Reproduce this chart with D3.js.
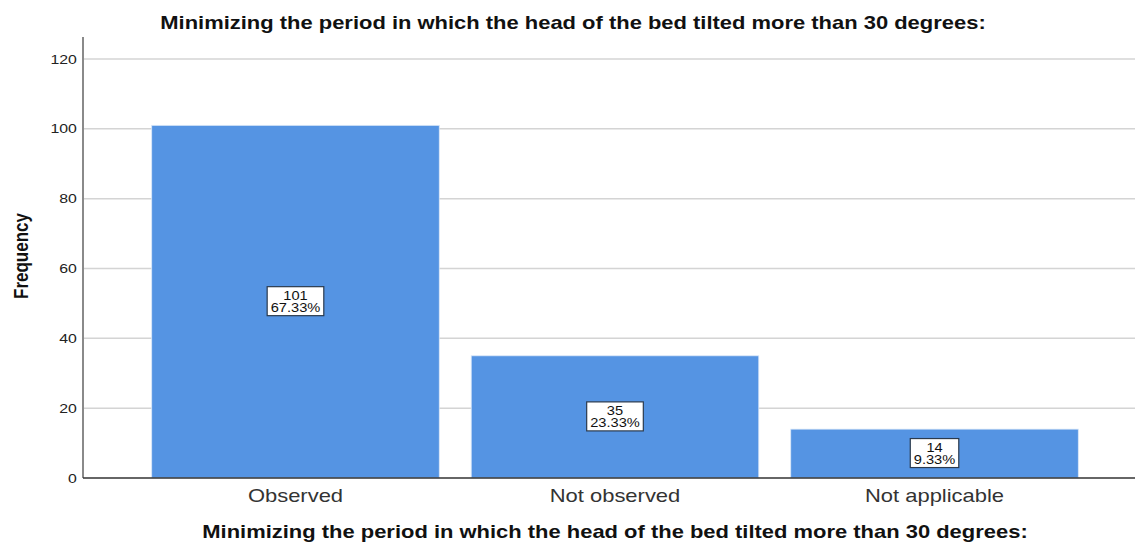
<!DOCTYPE html>
<html>
<head>
<meta charset="utf-8">
<script src="https://cdn.jsdelivr.net/npm/d3@7"></script>
<style>
  html, body { margin: 0; padding: 0; background: #fff; }
  svg { display: block; }
</style>
</head>
<body>
<div class="chart__container"></div>
<script>
/*-------------------------------------INIT-------------------------------------*/

const CHART__WIDTH = 1135;
const CHART__HEIGHT = 542;

const TITLE = "Minimizing the period in which the head of the bed tilted more than 30 degrees:";
const CATEGORIES = ["Observed", "Not observed", "Not applicable"];
const COUNTS = [101, 35, 14];
const PERCENTS = ["67.33%", "23.33%", "9.33%"];
const Y_TICKS = [0, 20, 40, 60, 80, 100, 120];

const MARGIN = { top: 37, right: -12, bottom: 64, left: 83 };

// the picture is stretched sideways, so the text is too
const SX = 1.22;
const FONT = "Liberation Sans, Arial, sans-serif";

/*-------------------------------------Graph-------------------------------------*/

const SVG = d3.select(".chart__container").append("svg")
    .attr("width", CHART__WIDTH)
    .attr("height", CHART__HEIGHT);

const x = d3.scaleBand()
    .domain(CATEGORIES)
    .range([MARGIN.left, CHART__WIDTH - MARGIN.right])
    .paddingInner(0.1)
    .paddingOuter(0.215);

const y = d3.scaleLinear()
    .domain([0, 126.3])
    .range([CHART__HEIGHT - MARGIN.bottom, MARGIN.top]);

//Gridlines
SVG.append("g")
    .selectAll("line")
    .data(Y_TICKS.filter(d => d > 0))
    .join("line")
    .attr("x1", MARGIN.left)
    .attr("x2", CHART__WIDTH)
    .attr("y1", d => y(d))
    .attr("y2", d => y(d))
    .attr("stroke", "#d4d4d4")
    .attr("stroke-width", 1.5);

//Bars
const data = CATEGORIES.map((c, i) => ({ cat: c, n: COUNTS[i], pct: PERCENTS[i] }));

SVG.append("g")
    .selectAll("rect")
    .data(data)
    .join("rect")
    .attr("x", d => x(d.cat))
    .attr("y", d => y(d.n))
    .attr("width", x.bandwidth())
    .attr("height", d => y(0) - y(d.n))
    .attr("fill", "#5594e3")
    .attr("stroke", "#dbe8f8")
    .attr("stroke-width", 0.8);

//Y axis
const yAxis = SVG.append("g")
    .attr("transform", `translate(${MARGIN.left},0)`)
    .call(d3.axisLeft(y).tickValues(Y_TICKS).tickSize(0).tickPadding(5));
yAxis.select(".domain").remove();
yAxis.selectAll("text")
    .attr("font-family", FONT)
    .attr("font-size", 13)
    .attr("fill", "#222")
    .attr("transform", `scale(${SX},1)`);

SVG.append("line")
    .attr("x1", MARGIN.left).attr("x2", MARGIN.left)
    .attr("y1", MARGIN.top).attr("y2", y(0))
    .attr("stroke", "#8a8a8a")
    .attr("stroke-width", 2);

//X axis
const xAxis = SVG.append("g")
    .attr("transform", `translate(0,${y(0)})`)
    .call(d3.axisBottom(x).tickSize(0).tickPadding(11));
xAxis.select(".domain").remove();
xAxis.selectAll("text")
    .attr("font-family", FONT)
    .attr("font-size", 18)
    .attr("fill", "#333")
    .attr("transform", `scale(${SX},1)`);

SVG.append("line")
    .attr("x1", MARGIN.left).attr("x2", CHART__WIDTH)
    .attr("y1", y(0)).attr("y2", y(0))
    .attr("stroke", "#333")
    .attr("stroke-width", 1.5);

//Value labels
const labels = SVG.append("g")
    .selectAll("g")
    .data(data)
    .join("g")
    .attr("transform", d => `translate(${x(d.cat) + x.bandwidth() / 2},${(y(d.n) + y(0)) / 2})`);

labels.each(function (d) {
    const g = d3.select(this);
    const box = g.append("rect");
    const t1 = g.append("text").attr("y", -2).text(d.n);
    const t2 = g.append("text").attr("y", 10).text(d.pct);
    g.selectAll("text")
        .attr("text-anchor", "middle")
        .attr("font-family", FONT)
        .attr("font-size", 12)
        .attr("fill", "#111")
        .attr("transform", `scale(${SX},1)`);
    const w = Math.max(t1.node().getComputedTextLength(), t2.node().getComputedTextLength()) * SX + 7;
    box.attr("x", -w / 2).attr("y", -15).attr("width", w).attr("height", 29)
        .attr("fill", "#fff").attr("stroke", "#2b3a4d").attr("stroke-width", 1.2);
});

//Titles
const addTitle = (tx, ty) => SVG.append("text")
    .attr("transform", `translate(${tx},${ty}) scale(${SX},1)`)
    .attr("text-anchor", "middle")
    .attr("font-family", FONT)
    .attr("font-weight", "bold")
    .attr("font-size", 18)
    .attr("fill", "#111")
    .text(TITLE);

addTitle(573, 29);
addTitle(615, 538);

SVG.append("text")
    .attr("transform", `translate(28,256) scale(${SX},1) rotate(-90)`)
    .attr("text-anchor", "middle")
    .attr("font-family", FONT)
    .attr("font-weight", "bold")
    .attr("font-size", 17)
    .attr("fill", "#111")
    .text("Frequency");
</script>
</body>
</html>
